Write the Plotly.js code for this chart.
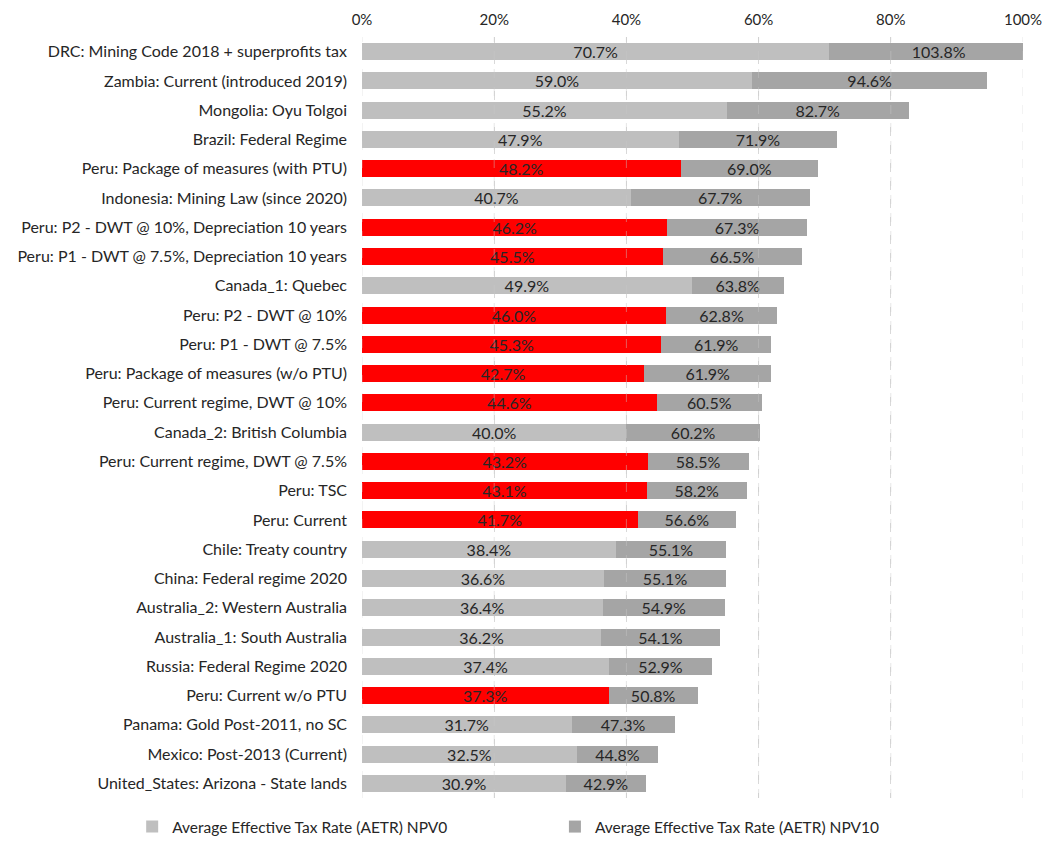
<!DOCTYPE html>
<html>
<head>
<meta charset="utf-8">
<script src="https://cdn.plot.ly/plotly-3.0.1.min.js"></script>
<style>html,body{margin:0;padding:0;background:#fff;}#chart{width:1049px;height:844px;}</style>
</head>
<body>
<div id="chart"></div>
<script>
const categories = [
  "DRC: Mining Code 2018 + superprofits tax",
  "Zambia: Current (introduced 2019)",
  "Mongolia: Oyu Tolgoi",
  "Brazil: Federal Regime",
  "Peru: Package of measures (with PTU)",
  "Indonesia: Mining Law (since 2020)",
  "Peru: P2 - DWT @ 10%, Depreciation 10 years",
  "Peru: P1 - DWT @ 7.5%, Depreciation 10 years",
  "Canada_1: Quebec",
  "Peru: P2 - DWT @ 10%",
  "Peru: P1 - DWT @ 7.5%",
  "Peru: Package of measures (w/o PTU)",
  "Peru: Current regime, DWT @ 10%",
  "Canada_2: British Columbia",
  "Peru: Current regime, DWT @ 7.5%",
  "Peru: TSC",
  "Peru: Current",
  "Chile: Treaty country",
  "China: Federal regime 2020",
  "Australia_2: Western Australia",
  "Australia_1: South Australia",
  "Russia: Federal Regime 2020",
  "Peru: Current w/o PTU",
  "Panama: Gold Post-2011, no SC",
  "Mexico: Post-2013 (Current)",
  "United_States: Arizona - State lands"
];
const aetrNPV0 = [70.7, 59.0, 55.2, 47.9, 48.2, 40.7, 46.2, 45.5, 49.9, 46.0, 45.3, 42.7, 44.6, 40.0, 43.2, 43.1, 41.7, 38.4, 36.6, 36.4, 36.2, 37.4, 37.3, 31.7, 32.5, 30.9];
const aetrNPV10 = [103.8, 94.6, 82.7, 71.9, 69.0, 67.7, 67.3, 66.5, 63.8, 62.8, 61.9, 61.9, 60.5, 60.2, 58.5, 58.2, 56.6, 55.1, 55.1, 54.9, 54.1, 52.9, 50.8, 47.3, 44.8, 42.9];
const tickVals = [0, 20, 40, 60, 80, 100];
const seriesNames = ["Average Effective Tax Rate (AETR) NPV0", "Average Effective Tax Rate (AETR) NPV10"];

const FONT = "Lato, 'Liberation Sans', sans-serif";
const light = "#BFBFBF", dark = "#A5A5A5", red = "#FF0000";
const npv0Colors = categories.map(c => c.startsWith("Peru") ? red : light);
const extra = aetrNPV10.map((v, i) => v - aetrNPV0[i]);

const traces = [
  {
    type: "bar", orientation: "h", name: seriesNames[0], legend: "legend",
    y: categories, x: aetrNPV0,
    marker: {color: npv0Colors},
    text: aetrNPV0.map(v => v.toFixed(1) + "%"),
    textposition: "inside", insidetextanchor: "middle", textangle: 0,
    constraintext: "none",
    textfont: {family: FONT, size: 16, color: "#262626"},
    hoverinfo: "skip"
  },
  {
    type: "bar", orientation: "h", name: seriesNames[1], legend: "legend2",
    y: categories, x: extra,
    marker: {color: dark},
    text: aetrNPV10.map(v => v.toFixed(1) + "%"),
    textposition: "inside", insidetextanchor: "middle", textangle: 0,
    constraintext: "none",
    textfont: {family: FONT, size: 16, color: "#262626"},
    hoverinfo: "skip"
  }
];

const legendBase = {
  orientation: "h", xref: "container", yref: "container",
  xanchor: "left", y: 0.0, yanchor: "bottom", itemwidth: 30,
  font: {family: FONT, size: 15.5, color: "#262626"}
};

const gridShapes = tickVals.map(v => ({
  type: "line", layer: "above", xref: "x", yref: "paper",
  x0: v, x1: v, y0: 0, y1: 1,
  line: {color: "rgba(200,200,200,0.45)", width: 1, dash: "dash"}
}));

const layout = {
  width: 1049, height: 844,
  margin: {l: 362, r: 26, t: 37, b: 46},
  paper_bgcolor: "#fff", plot_bgcolor: "#fff",
  barmode: "stack", bargap: 0.42,
  font: {family: FONT, size: 15, color: "#262626"},
  xaxis: {
    side: "top", range: [0, 100], tickvals: tickVals,
    ticktext: tickVals.map(v => v + "%"),
    showgrid: true, gridcolor: "#D9D9D9", griddash: "dash", gridwidth: 1,
    zeroline: false, showline: false, ticks: "",
    ticklabelstandoff: 8,
    tickfont: {family: FONT, size: 15, color: "#262626"},
    fixedrange: true
  },
  yaxis: {
    autorange: "reversed", showgrid: false, showline: false, zeroline: false,
    ticks: "", ticklabelstandoff: 14,
    tickfont: {family: FONT, size: 16, color: "#262626"},
    fixedrange: true
  },
  shapes: gridShapes,
  showlegend: true,
  legend: Object.assign({}, legendBase, {x: 0.126}),
  legend2: Object.assign({}, legendBase, {x: 0.529})
};

Plotly.newPlot("chart", traces, layout, {displayModeBar: false, staticPlot: true});
</script>
</body>
</html>
